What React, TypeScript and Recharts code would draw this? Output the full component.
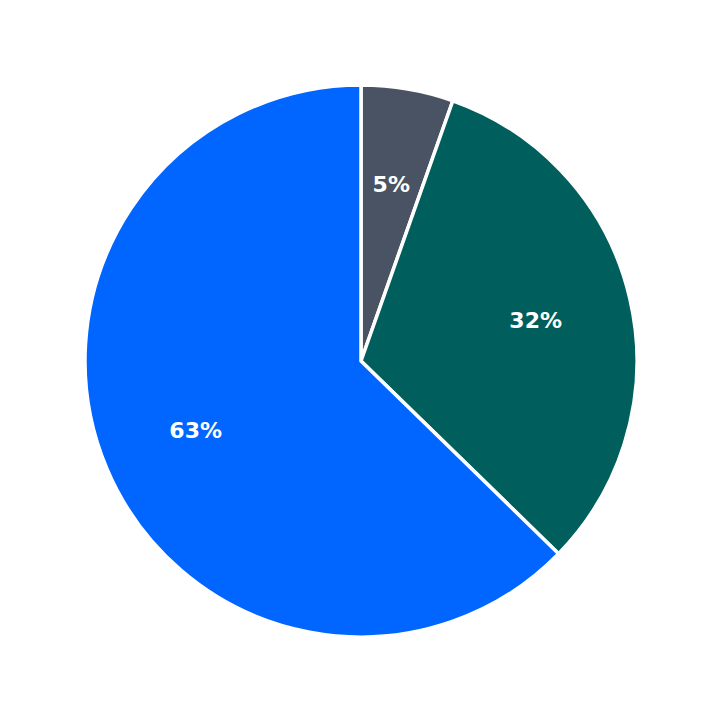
import React from "react";
import { PieChart, Pie, Cell } from "recharts";

const categories = ["Gray", "Teal", "Blue"];
const values = [5.4, 31.9, 62.7];
const labels = ["5%", "32%", "63%"];
const colors = ["#4a5363", "#005f5c", "#0066ff"];

const data = categories.map((name, i) => ({ name, value: values[i], label: labels[i] }));

const RADIAN = Math.PI / 180;
const renderLabel = (props: any) => {
  const { cx, cy, midAngle, outerRadius, index } = props;
  const r = outerRadius * 0.65;
  const x = cx + r * Math.cos(-midAngle * RADIAN);
  const y = cy + r * Math.sin(-midAngle * RADIAN);
  return (
    <text
      x={x}
      y={y}
      fill="#ffffff"
      textAnchor="middle"
      dominantBaseline="central"
      fontFamily="DejaVu Sans"
      fontWeight="bold"
      fontSize={22}
    >
      {labels[index]}
    </text>
  );
};

export default function App() {
  return (
    <div style={{ position: "absolute", left: 0, top: 0, background: "#fff" }}>
      <PieChart width={723} height={723} margin={{ top: 0, right: 0, bottom: 0, left: 0 }}>
        <Pie
          data={data}
          dataKey="value"
          cx={361}
          cy={361}
          outerRadius={276}
          startAngle={90}
          endAngle={-270}
          stroke="#ffffff"
          strokeWidth={3.5}
          label={renderLabel}
          labelLine={false}
          isAnimationActive={false}
        >
          {data.map((d, i) => (
            <Cell key={d.name} fill={colors[i]} />
          ))}
        </Pie>
      </PieChart>
    </div>
  );
}
